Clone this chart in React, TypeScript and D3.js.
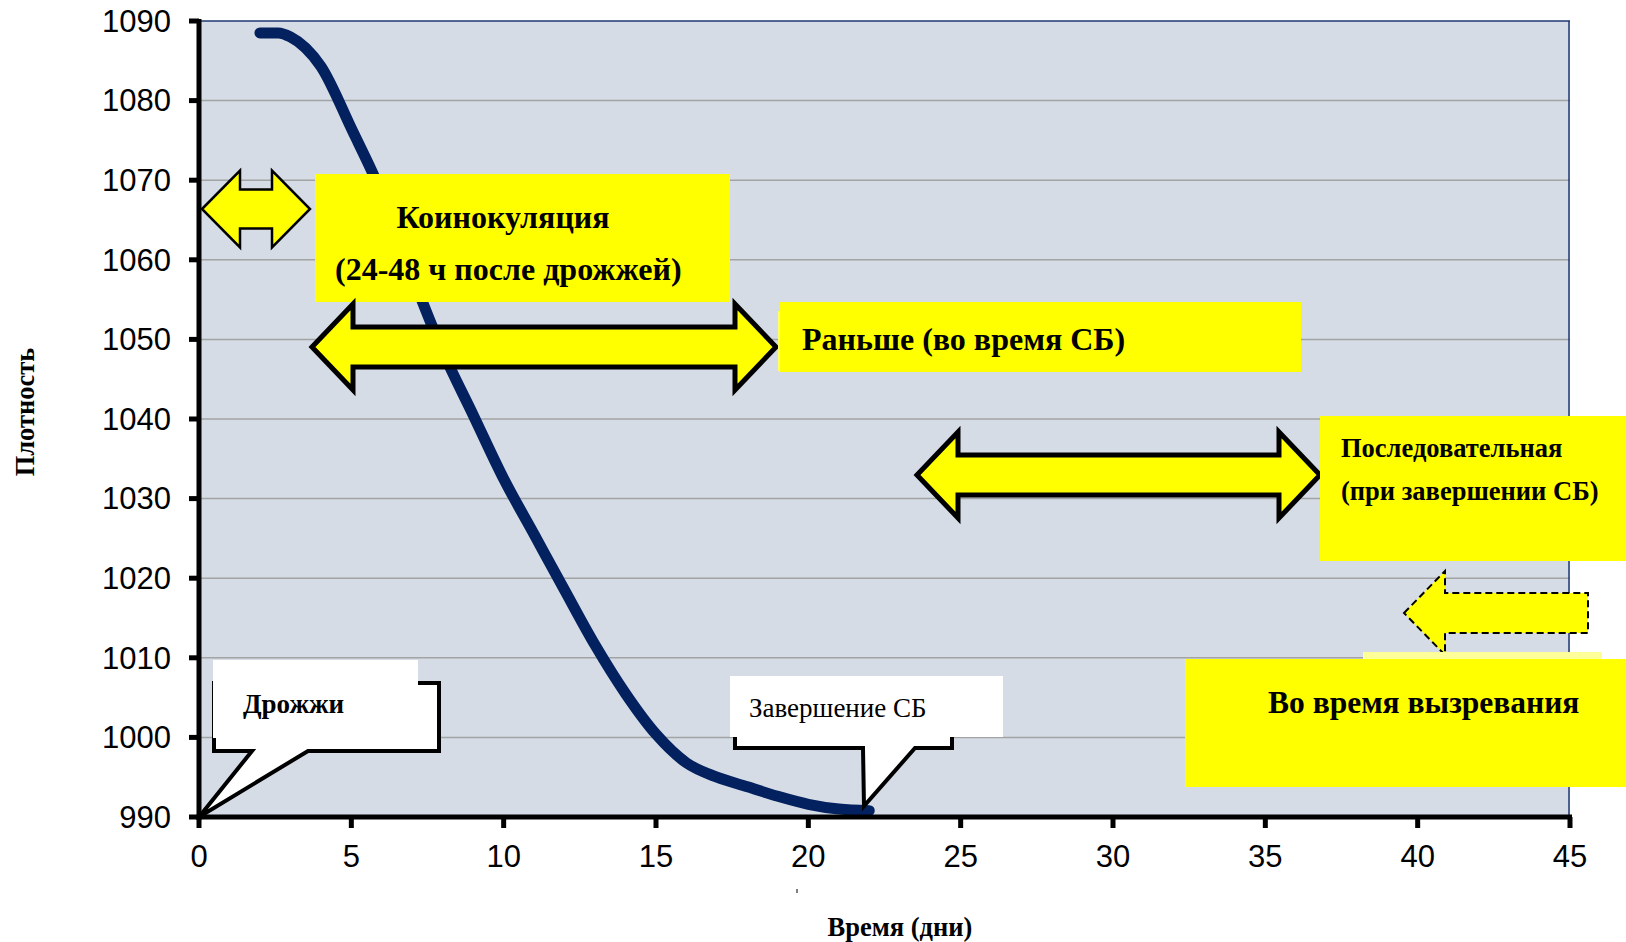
import React from "react";
import * as d3 from "d3";

// Density curve of the fermentation (day, density)
const days = [2, 2.6, 3, 3.5, 4, 5, 6, 7, 8, 9, 10, 11, 12, 13, 14, 15, 16, 17, 18, 19, 20, 21, 22];
const density = [1088.5, 1088.5, 1088, 1086.6, 1084.3, 1076.5, 1068.3, 1058, 1048.5, 1040.5, 1032.5, 1025.5, 1018.5, 1011.6, 1005.5, 1000.4, 996.8, 995, 993.8, 992.6, 991.6, 991, 990.8];

const xTicks = [0, 5, 10, 15, 20, 25, 30, 35, 40, 45];
const yTicks = [990, 1000, 1010, 1020, 1030, 1040, 1050, 1060, 1070, 1080, 1090];

const xTitle = "Время (дни)";
const yTitle = "Плотность";

const W = 1626;
const H = 942;
const plot = { left: 199, right: 1570, top: 21, bottom: 817 };

const serif = "'Liberation Serif', 'Times New Roman', serif";
const sans = "'Liberation Sans', Arial, sans-serif";
const YELLOW = "#ffff00";

// Horizontal block arrow path (double-headed or single left-pointing)
function doubleArrow(x0: number, x1: number, cy: number, headLen: number, headHalf: number, shaftHalf: number) {
  return [
    [x0, cy],
    [x0 + headLen, cy - headHalf],
    [x0 + headLen, cy - shaftHalf],
    [x1 - headLen, cy - shaftHalf],
    [x1 - headLen, cy - headHalf],
    [x1, cy],
    [x1 - headLen, cy + headHalf],
    [x1 - headLen, cy + shaftHalf],
    [x0 + headLen, cy + shaftHalf],
    [x0 + headLen, cy + headHalf],
  ]
    .map((p, i) => (i === 0 ? "M" : "L") + p[0] + "," + p[1])
    .join("") + "Z";
}

function leftArrow(x0: number, x1: number, cy: number, headLen: number, headHalf: number, shaftHalf: number) {
  return [
    [x0, cy],
    [x0 + headLen, cy - headHalf],
    [x0 + headLen, cy - shaftHalf],
    [x1, cy - shaftHalf],
    [x1, cy + shaftHalf],
    [x0 + headLen, cy + shaftHalf],
    [x0 + headLen, cy + headHalf],
  ]
    .map((p, i) => (i === 0 ? "M" : "L") + p[0] + "," + p[1])
    .join("") + "Z";
}

// Rectangle callout with a wedge pointing down to (tx, ty)
function callout(l: number, t: number, r: number, b: number, w0: number, w1: number, tx: number, ty: number) {
  return `M${l},${t}L${r},${t}L${r},${b}L${w1},${b}L${tx},${ty}L${w0},${b}L${l},${b}Z`;
}

export default function App() {
  const x = d3.scaleLinear().domain([0, 45]).range([plot.left, plot.right]);
  const y = d3.scaleLinear().domain([990, 1090]).range([plot.bottom, plot.top]);

  const line = d3
    .line<number>()
    .x((_, i) => x(days[i]))
    .y((d) => y(d))
    .curve(d3.curveMonotoneX);

  return (
    <div style={{ position: "absolute", left: 0, top: 0 }}>
      <svg width={W} height={H} style={{ display: "block", background: "#fff" }}>
        {/* plot background */}
        <rect x={plot.left} y={plot.top} width={plot.right - plot.left} height={plot.bottom - plot.top} fill="#d5dce6" />
        {/* gridlines */}
        {yTicks.slice(1, -1).map((t) => (
          <line key={t} x1={plot.left} x2={plot.right} y1={y(t)} y2={y(t)} stroke="#a3a3a3" strokeWidth={1.5} />
        ))}
        {/* frame top & right */}
        <line x1={plot.left} x2={plot.right} y1={plot.top} y2={plot.top} stroke="#1f3870" strokeWidth={1.5} />
        <line x1={plot.right - 1} x2={plot.right - 1} y1={plot.top} y2={plot.bottom} stroke="#1f3870" strokeWidth={1.5} />

        {/* density curve */}
        <path d={line(density) || ""} fill="none" stroke="#03215f" strokeWidth={11} strokeLinecap="round" strokeLinejoin="round" />

        {/* axes */}
        <line x1={plot.left} x2={plot.left} y1={plot.top - 2} y2={plot.bottom + 3} stroke="#000" strokeWidth={5} />
        <line x1={plot.left - 3} x2={plot.right + 2} y1={plot.bottom} y2={plot.bottom} stroke="#000" strokeWidth={5} />
        {yTicks.map((t) => (
          <g key={t}>
            <line x1={plot.left - 10} x2={plot.left} y1={y(t)} y2={y(t)} stroke="#000" strokeWidth={5} />
            <text x={171} y={y(t)} dy="0.35em" textAnchor="end" fontFamily={sans} fontSize={31} fill="#000">
              {t}
            </text>
          </g>
        ))}
        {xTicks.map((t) => (
          <g key={t}>
            <line x1={x(t)} x2={x(t)} y1={plot.bottom} y2={plot.bottom + 11} stroke="#000" strokeWidth={5} />
            <text x={x(t)} y={867} textAnchor="middle" fontFamily={sans} fontSize={31} fill="#000">
              {t}
            </text>
          </g>
        ))}

        {/* axis titles */}
        <text x={900} y={936} textAnchor="middle" fontFamily={serif} fontWeight="bold" fontSize={26.5} fill="#000">
          {xTitle}
        </text>
        <text transform="translate(34,412) rotate(-90)" textAnchor="middle" fontFamily={serif} fontWeight="bold" fontSize={26.5} fill="#000">
          {yTitle}
        </text>
        <line x1={797} x2={797} y1={889} y2={893} stroke="#000" strokeWidth={1} />

        {/* co-inoculation */}
        <path d={doubleArrow(202, 310, 209, 38, 38.5, 19.5)} fill={YELLOW} stroke="#000" strokeWidth={2.5} />
        <rect x={315} y={174} width={415} height={128} fill={YELLOW} />
        <text x={503} y={228} textAnchor="middle" fontFamily={serif} fontWeight="bold" fontSize={32} fill="#000">
          Коинокуляция
        </text>
        <text x={335} y={280} fontFamily={serif} fontWeight="bold" fontSize={32} fill="#000">
          (24-48 ч после дрожжей)
        </text>

        {/* early */}
        <path d={doubleArrow(312, 776, 347, 41, 43, 20)} fill={YELLOW} stroke="#000" strokeWidth={5} />
        <rect x={778} y={311} width={4} height={60} fill="#ffff66" />
        <rect x={780} y={302} width={521} height={70} fill={YELLOW} />
        <text x={802} y={350} fontFamily={serif} fontWeight="bold" fontSize={32} fill="#000">
          Раньше (во время СБ)
        </text>

        {/* sequential */}
        <path d={doubleArrow(917, 1320, 475, 41, 43, 20)} fill={YELLOW} stroke="#000" strokeWidth={5} />
        <rect x={1320} y={416} width={306} height={145} fill={YELLOW} />
        <text x={1341} y={457} fontFamily={serif} fontWeight="bold" fontSize={26.5} fill="#000">
          Последовательная
        </text>
        <text x={1341} y={500} fontFamily={serif} fontWeight="bold" fontSize={26.5} fill="#000">
          (при завершении СБ)
        </text>

        {/* during maturation */}
        <path d={leftArrow(1404, 1588, 613, 41, 42, 20)} fill={YELLOW} stroke="#000" strokeWidth={2} strokeDasharray="7,4" />
        <rect x={1363} y={652} width={239} height={20} fill="#ffff99" />
        <rect x={1185} y={659} width={441} height={128} fill={YELLOW} />
        <text x={1268} y={713} fontFamily={serif} fontWeight="bold" fontSize={31.5} fill="#000">
          Во время вызревания
        </text>

        {/* yeast callout */}
        <path d={callout(214, 683, 439, 751, 252, 308, 199, 817)} fill="#fff" stroke="#000" strokeWidth={4} strokeLinejoin="miter" />
        <rect x={213} y={660} width={205} height={78} fill="#fff" />
        <text x={243} y={713} fontFamily={serif} fontWeight="bold" fontSize={27} fill="#000">
          Дрожжи
        </text>

        {/* end of alcoholic fermentation callout */}
        <path d={callout(735, 700, 952, 748, 863, 915, 864, 806)} fill="#fff" stroke="#000" strokeWidth={4} strokeLinejoin="miter" />
        <rect x={730} y={676} width={273} height={61} fill="#fff" />
        <text x={749} y={717} fontFamily={serif} fontSize={27} fill="#000">
          Завершение СБ
        </text>
      </svg>
    </div>
  );
}
